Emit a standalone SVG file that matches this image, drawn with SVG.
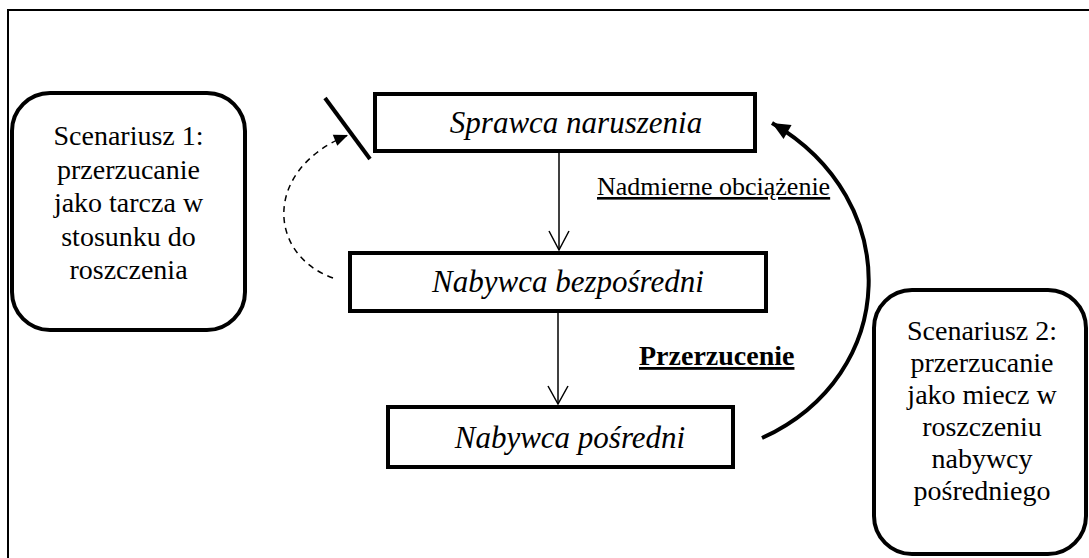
<svg xmlns="http://www.w3.org/2000/svg" width="1089" height="558" viewBox="0 0 1089 558">
<style>
.box{fill:#fff;stroke:#000;stroke-width:4}
.rbox{fill:#fff;stroke:#000;stroke-width:4}
.serif{font-family:'Liberation Serif','Tinos','Times New Roman','DejaVu Serif',serif}
.lbl{font-style:italic;font-size:31px;text-anchor:middle;fill:#000}
.sc{font-size:28px;text-anchor:middle;fill:#000}
.thin{fill:none;stroke:#000;stroke-width:1.5}
</style>
<defs>
<marker id="bighead" markerUnits="userSpaceOnUse" markerWidth="24" markerHeight="24" viewBox="0 0 24 24" refX="20" refY="12" orient="auto">
<path d="M2,4 L20,12 L2,20 Z" fill="#000"/>
</marker>
<marker id="dashhead" markerUnits="userSpaceOnUse" markerWidth="18" markerHeight="18" viewBox="0 0 18 18" refX="15" refY="9" orient="auto">
<path d="M1,3 L15,9 L1,15 Z" fill="#000"/>
</marker>
</defs>
<rect width="1089" height="558" fill="#fff"/>
<path d="M8,560 V10 H1092" fill="none" stroke="#000" stroke-width="2"/>

<g id="scenario1" class="serif">
<rect class="rbox" x="12" y="93" width="233" height="237" rx="38"/>
<text class="sc" x="128.5" y="145">Scenariusz 1:</text>
<text class="sc" x="128.5" y="178.5">przerzucanie</text>
<text class="sc" x="128.5" y="212">jako tarcza w</text>
<text class="sc" x="128.5" y="245.5">stosunku do</text>
<text class="sc" x="128.5" y="279">roszczenia</text>
</g>

<g id="scenario2" class="serif">
<rect class="rbox" x="874" y="290" width="212" height="264" rx="38"/>
<text class="sc" x="982" y="340">Scenariusz 2:</text>
<text class="sc" x="982" y="372">przerzucanie</text>
<text class="sc" x="982" y="404">jako miecz w</text>
<text class="sc" x="982" y="436">roszczeniu</text>
<text class="sc" x="982" y="468">nabywcy</text>
<text class="sc" x="982" y="500">pośredniego</text>
</g>

<g id="sprawca" class="serif">
<rect class="box" x="375" y="94" width="380" height="57"/>
<text class="lbl" x="576" y="133">Sprawca naruszenia</text>
</g>

<g id="bezposredni" class="serif">
<rect class="box" x="350" y="253" width="416" height="58"/>
<text class="lbl" x="568" y="292">Nabywca bezpośredni</text>
</g>

<g id="posredni" class="serif">
<rect class="box" x="388" y="407" width="345" height="60"/>
<text class="lbl" x="570" y="448">Nabywca pośredni</text>
</g>

<g id="connectors">
<line class="thin" x1="559" y1="153" x2="559" y2="250"/>
<path class="thin" d="M549,231 L559,250 L569,231"/>
<line class="thin" x1="558" y1="313" x2="558" y2="404"/>
<path class="thin" d="M548,386 L558,404 L568,386"/>
<path d="M762,438 C 900,375 905,200 772,123" fill="none" stroke="#000" stroke-width="4" marker-end="url(#bighead)"/>
<path d="M333,278 C 268,255 262,170 348,135" fill="none" stroke="#000" stroke-width="1.5" stroke-dasharray="6,5" marker-end="url(#dashhead)"/>
<line x1="325" y1="98" x2="370" y2="159" stroke="#000" stroke-width="4"/>
</g>

<g id="labels" class="serif">
<text x="597" y="195" font-size="26" text-decoration="underline" fill="#000">Nadmierne obciążenie</text>
<text x="639" y="365" font-size="28" font-weight="bold" text-decoration="underline" fill="#000">Przerzucenie</text>
</g>
</svg>
